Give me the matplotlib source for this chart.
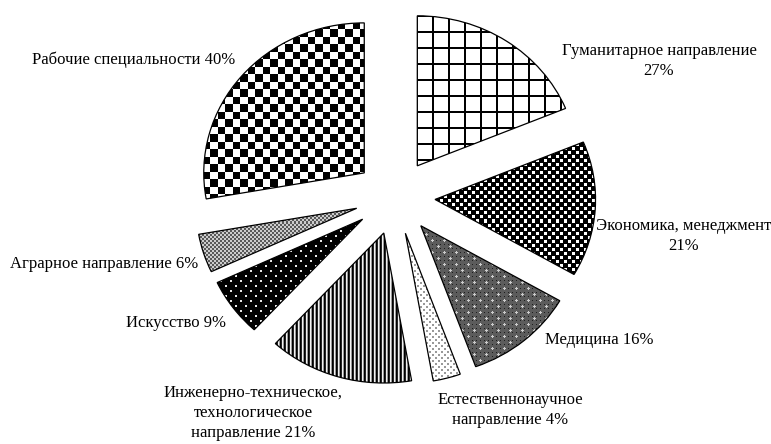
import numpy as np
import matplotlib
matplotlib.use("Agg")
import matplotlib.pyplot as plt

labels = ["Гуманитарное направление\n27%", "Экономика, менеджмент\n21%", "Медицина 16%",
          "Естественнонаучное\nнаправление 4%", "Инженерно-техническое,\nтехнологическое\nнаправление 21%",
          "Искусство 9%", "Аграрное направление 6%", "Рабочие специальности 40%"]
values = [27, 21, 16, 4, 21, 9, 6, 40]

W, H = 771, 444
fig = plt.figure(figsize=(W / 100, H / 100), dpi=100)
ax = fig.add_axes([0, 0, 1, 1])
wedges, _ = ax.pie(values, explode=[0.25] * len(values), startangle=90, counterclock=False,
                   colors=["none"] * len(values),
                   wedgeprops=dict(edgecolor="black", linewidth=0.9, zorder=5))
ax.set_aspect("auto")
xl = (-395 / 160.5, (W - 395) / 160.5)
yl = (-(H - 197) / 150.0, 197 / 150.0)
ax.set_xlim(*xl)
ax.set_ylim(*yl)
ax.axis("off")

yy, xx = np.mgrid[0:H, 0:W]


def stagger(period, size):
    a = ((xx % period) < size) & ((yy % period) < size)
    h = period // 2
    b = (((xx + h) % period) < size) & (((yy + h) % period) < size)
    return a | b


tex = []
# Гуманитарное: grid
t = np.ones((H, W))
t[((xx % 16) < 2) | ((yy % 16) < 2)] = 0.0
tex.append(t)
# Экономика: black with white squares
t = np.zeros((H, W))
t[stagger(8, 3)] = 1.0
tex.append(t)
# Медицина: grey with light plus marks and dark dots
t = np.full((H, W), 0.36)
t[((xx % 4) == 0) & ((yy % 4) == 0)] = 0.12
cx = (xx % 12); cy = (yy % 12)
plus = ((cx == 6) & (abs(cy - 6) <= 1)) | ((cy == 6) & (abs(cx - 6) <= 1))
cx2 = ((xx + 6) % 12); cy2 = ((yy + 6) % 12)
plus2 = ((cx2 == 6) & (abs(cy2 - 6) <= 1)) | ((cy2 == 6) & (abs(cx2 - 6) <= 1))
t[plus | plus2] = 0.8
tex.append(t)
# Естественнонаучное: white with grey dots
t = np.ones((H, W))
t[stagger(6, 2)] = 0.6
tex.append(t)
# Инженерно: vertical stripes
stripe = np.array([0.0, 0.15, 0.95, 0.6])
tex.append(stripe[xx % 4])
# Искусство: black with white dots
t = np.zeros((H, W))
t[stagger(10, 2)] = 0.9
tex.append(t)
# Аграрное: fine grey checker
t = np.where(((xx // 2 + yy // 2) % 2) == 0, 0.35, 0.8)
tex.append(t)
# Рабочие: checkerboard
t = np.where(((np.floor(xx / 7.5) + np.floor(yy / 7.5)) % 2) == 0, 0.0, 1.0)
tex.append(t)

for w, t in zip(wedges, tex):
    im = ax.imshow(t, cmap="gray", vmin=0, vmax=1, extent=(xl[0], xl[1], yl[0], yl[1]),
                   origin="upper", interpolation="nearest", aspect="auto", zorder=2)
    im.set_clip_path(w)

ax.set_xlim(*xl)
ax.set_ylim(*yl)

label_pos = [(659, 61), (684, 236), (599, 340), (510, 410), (253, 413), (176, 323), (104, 264), (134, 60)]
for lab, (px, py) in zip(labels, label_pos):
    ax.text(px / W, 1 - py / H, lab, transform=ax.transAxes, ha="center", va="center",
            fontsize=12, family="Liberation Serif", linespacing=1.32, zorder=6)

fig.savefig("out.png", dpi=100, facecolor="white")
